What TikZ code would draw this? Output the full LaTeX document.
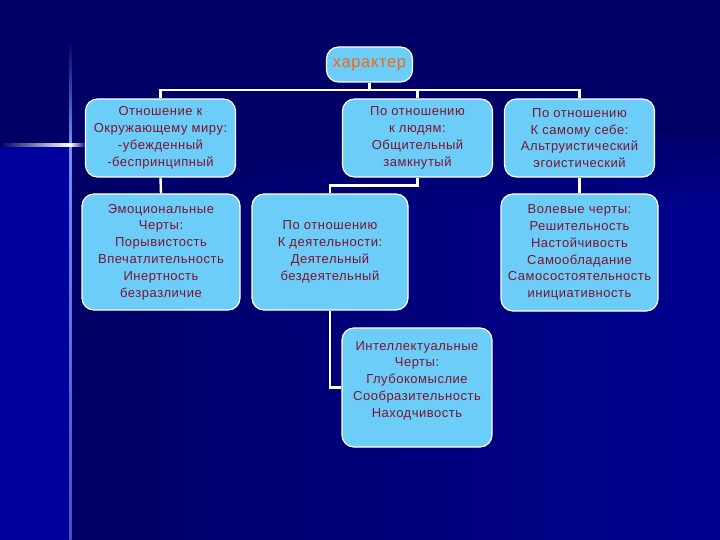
\documentclass[tikz,border=0pt]{standalone}
\usepackage{fontspec}
\usetikzlibrary{fadings}
\setmainfont{Liberation Sans}
\newfontfamily\boxfont[LetterSpace=4]{Liberation Sans}
\definecolor{bgdark}{HTML}{000066}
\definecolor{bgleft}{HTML}{00009E}
\definecolor{bgright}{HTML}{00008F}
\definecolor{glow}{HTML}{7090FF}
\definecolor{boxblue}{HTML}{6CCDF8}
\definecolor{txtred}{HTML}{7A1530}
\definecolor{chorange}{HTML}{F26A10}
\begin{document}
\begin{tikzpicture}[x=1bp,y=-1bp,
  box/.style={draw=white, line width=1.2bp, fill=boxblue, rounded corners=12bp,
    align=center, text=txtred, inner sep=2bp,
    font=\boxfont\fontsize{13bp}{16.8bp}\selectfont},
  plain/.style={align=center, text=txtred, inner sep=0pt,
    font=\boxfont\fontsize{13bp}{16.8bp}\selectfont},
  conn/.style={draw=white, line width=2.4bp}]
% background
\useasboundingbox (0,0) rectangle (720,540);
\fill[bgdark] (0,0) rectangle (720,540);
\fill[bgleft] (0,145) rectangle (70,540);
\shade[left color=bgdark, right color=bgright] (71,140) rectangle (720,540);
\fill[bgdark, path fading=south] (71,120) rectangle (720,210);
\fill[bgdark] (71,0) rectangle (720,120);
\shade[top color=bgdark, bottom color=glow] (69,40) rectangle (71.5,145);
\shade[top color=glow, bottom color=bgleft!70!white] (69,145) rectangle (71.5,540);
\shade[left color=bgdark, right color=white] (0,144) rectangle (70,146.5);
\shade[left color=white, right color=bgdark] (70,144) rectangle (86,146.5);
\fill[white] (70.2,145.2) circle (2bp);
% nodes
\node[box, minimum width=86bp, minimum height=35bp, text=chorange,
  font=\boxfont\fontsize{16.5bp}{18bp}\selectfont] (char) at (369.5,64.5) {характер};
\node[box, minimum width=150bp, minimum height=78bp] (A) at (160.5,138)
  {Отношение к\\Окружающему миру:\\-убежденный\\-беспринципный};
\node[box, minimum width=150bp, minimum height=78bp] (B) at (417.5,138)
  {По отношению\\к людям:\\Общительный\\замкнутый};
\node[box, minimum width=150bp, minimum height=78bp] (C) at (579.5,138)
  {По отношению\\К самому себе:\\Альтруистический\\эгоистический};
\node[box, minimum width=158bp, minimum height=116bp] (E) at (161,252)
  {Эмоциональные\\Черты:\\Порывистость\\Впечатлительность\\Инертность\\безразличие};
\node[box, minimum width=156bp, minimum height=116bp] (D) at (330,252)
  {По отношению\\К деятельности:\\Деятельный\\бездеятельный};
\node[box, minimum width=157bp, minimum height=117bp] (F) at (579.5,252.5)
  {Волевые черты:\\Решительность\\Настойчивость\\Самообладание\\Самосостоятельность\\инициативность};
\node[box, minimum width=150bp, minimum height=119bp] (G) at (417,387.5) {};
\node[plain] (Gtext) at ([yshift=7bp]G.center)
  {Интеллектуальные\\Черты:\\Глубокомыслие\\Сообразительность\\Находчивость};
% connectors
\coordinate (bus) at (0,90);
\draw[conn] (A.north) -- (A.north |- bus) -- (C.north |- bus) -- (C.north);
\draw[conn] (char.south) -- (char.south |- bus);
\draw[conn] (B.north) -- (B.north |- bus);
\draw[conn] (A.south) -- (E.north);
\draw[conn] (C.south) -- (F.north);
\draw[conn] (B.south) -- ++(0,8) -| (D.north);
\draw[conn] (D.south) |- (G.west);
\end{tikzpicture}
\end{document}
